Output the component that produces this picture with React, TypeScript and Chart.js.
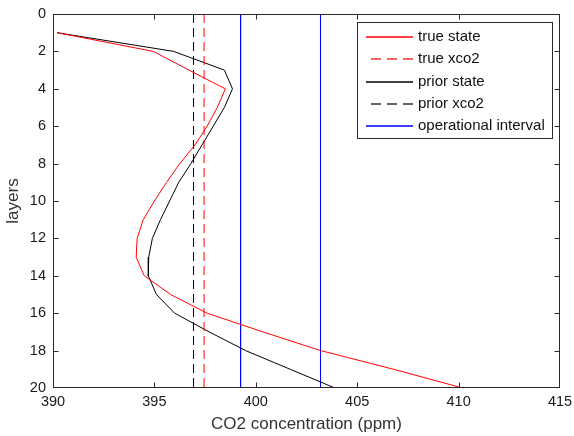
import React, { useEffect, useRef } from "react";
import { Chart, registerables } from "chart.js";

Chart.register(...registerables);

// Atmospheric layers (1 = top of the column)
const layers = [1, 2, 3, 4, 5, 6, 7, 8, 9, 10, 11, 12, 13, 14, 15, 16, 17, 18, 19, 20];

// CO2 profiles per layer (ppm)
const trueState = [
  390.2, 394.95, 396.7, 398.5, 398.1, 397.6, 397.0, 396.25, 395.6, 395.0,
  394.45, 394.15, 394.1, 394.5, 395.8, 397.6, 400.35, 403.2, 406.8, 410.2,
];
const priorState = [
  390.2, 395.95, 398.45, 398.85, 398.45, 397.9, 397.35, 396.8, 396.2, 395.75,
  395.3, 394.9, 394.72, 394.7, 395.1, 396.0, 397.7, 399.5, 401.7, 403.9,
];

// Column-averaged values (ppm)
const trueXco2 = 397.45;
const priorXco2 = 396.93;

// Bounds of the operational interval (ppm)
const operationalInterval = [399.25, 403.19];

// Axis ranges
const xRange = [390, 415];
const layerRange = [0, 20];

const FONT = "'Liberation Sans', Arial, Helvetica, sans-serif";
const AXIS_COLOR = "#2a2a2a";
const DASH = [9, 5];

type LegendEntry = { label: string; color: string; dash: number[] };

const legendEntries: LegendEntry[] = [
  { label: "true state", color: "#ff0000", dash: [] },
  { label: "true xco2", color: "#ff3030", dash: [10, 6] },
  { label: "prior state", color: "#000000", dash: [] },
  { label: "prior xco2", color: "#303030", dash: [10, 6] },
  { label: "operational interval", color: "#0000ff", dash: [] },
];

const verticalLine = (x: number) => [
  { x, y: layerRange[0] },
  { x, y: layerRange[1] },
];

// Box around the plot with inward tick marks on all four sides
const boxPlugin = {
  id: "axisBox",
  afterDraw(chart: any) {
    const { ctx, chartArea } = chart;
    const l = Math.round(chartArea.left) + 0.5;
    const r = Math.round(chartArea.right) - 0.5;
    const t = Math.round(chartArea.top) + 0.5;
    const b = Math.round(chartArea.bottom) - 0.5;
    const len = 5;
    ctx.save();
    ctx.strokeStyle = AXIS_COLOR;
    ctx.lineWidth = 1;
    ctx.setLineDash([]);
    ctx.strokeRect(l, t, r - l, b - t);
    ctx.beginPath();
    const xs = chart.scales.x;
    xs.ticks.forEach((tk: any) => {
      const px = Math.round(xs.getPixelForValue(tk.value)) + 0.5;
      if (px <= l + 1 || px >= r - 1) return;
      ctx.moveTo(px, b);
      ctx.lineTo(px, b - len);
      ctx.moveTo(px, t);
      ctx.lineTo(px, t + len);
    });
    const ys = chart.scales.y;
    ys.ticks.forEach((tk: any) => {
      const py = Math.round(ys.getPixelForValue(tk.value)) + 0.5;
      if (py <= t + 1 || py >= b - 1) return;
      ctx.moveTo(l, py);
      ctx.lineTo(l + len, py);
      ctx.moveTo(r, py);
      ctx.lineTo(r - len, py);
    });
    ctx.stroke();
    ctx.restore();
  },
};

// Legend box in the upper right corner of the plot
const legendPlugin = {
  id: "boxLegend",
  afterDatasetsDraw(chart: any) {
    const { ctx } = chart;
    const bx = 357.5;
    const by = 22.5;
    const bw = 195;
    const bh = 116;
    const rowTop = 37;
    const rowStep = 22.3;
    const sx0 = 366;
    const sx1 = 413;
    ctx.save();
    ctx.fillStyle = "#ffffff";
    ctx.fillRect(bx, by, bw, bh);
    ctx.strokeStyle = AXIS_COLOR;
    ctx.lineWidth = 1;
    ctx.setLineDash([]);
    ctx.strokeRect(bx, by, bw, bh);
    ctx.font = `15px ${FONT}`;
    ctx.textBaseline = "middle";
    ctx.textAlign = "left";
    legendEntries.forEach((e, i) => {
      const y = Math.round(rowTop + i * rowStep);
      ctx.setLineDash(e.dash);
      ctx.lineDashOffset = e.dash.length ? 11 : 0;
      ctx.lineWidth = 1.3;
      ctx.beginPath();
      ctx.moveTo(sx0, y);
      ctx.lineTo(sx1, y);
      ctx.strokeStyle = e.color;
      ctx.stroke();
      ctx.fillStyle = "#111111";
      ctx.fillText(e.label, 418, y);
    });
    ctx.restore();
  },
};

export default function App() {
  const canvasRef = useRef<HTMLCanvasElement | null>(null);

  useEffect(() => {
    if (!canvasRef.current) return;
    const chart = new Chart(canvasRef.current, {
      type: "scatter",
      data: {
        datasets: [
          {
            label: "true state",
            data: layers.map((l, i) => ({ x: trueState[i], y: l })),
            borderColor: "#ff0000",
            borderWidth: 1,
            showLine: true,
            pointRadius: 0,
            tension: 0,
          },
          {
            label: "true xco2",
            data: verticalLine(trueXco2),
            borderColor: "#ff0000",
            borderWidth: 1,
            borderDash: DASH,
            showLine: true,
            pointRadius: 0,
          },
          {
            label: "prior state",
            data: layers.map((l, i) => ({ x: priorState[i], y: l })),
            borderColor: "#000000",
            borderWidth: 1,
            showLine: true,
            pointRadius: 0,
            tension: 0,
          },
          {
            label: "prior xco2",
            data: verticalLine(priorXco2),
            borderColor: "#000000",
            borderWidth: 1,
            borderDash: DASH,
            showLine: true,
            pointRadius: 0,
          },
          {
            label: "operational interval",
            data: [
              ...verticalLine(operationalInterval[0]),
              { x: operationalInterval[0], y: null as any },
              ...verticalLine(operationalInterval[1]),
            ],
            borderColor: "#0000ff",
            borderWidth: 1,
            showLine: true,
            spanGaps: false,
            pointRadius: 0,
          },
        ],
      },
      options: {
        responsive: false,
        animation: false,
        devicePixelRatio: 1,
        layout: { padding: { top: 14, right: 14, left: 0, bottom: 0 } },
        plugins: {
          legend: { display: false },
          tooltip: { enabled: false },
        },
        scales: {
          x: {
            type: "linear",
            position: "bottom",
            min: xRange[0],
            max: xRange[1],
            grid: { display: false, drawTicks: false },
            border: { display: false },
            ticks: {
              stepSize: 5,
              padding: 5,
              color: "#1a1a1a",
              font: { family: FONT, size: 14.5 },
              maxRotation: 0,
            },
            title: {
              display: true,
              text: "CO2 concentration (ppm)",
              color: "#333333",
              font: { family: FONT, size: 17 },
              padding: { top: 0, bottom: 1 },
            },
            afterFit(scale: any) {
              scale.height = 48;
              scale.paddingLeft = 0;
              scale.paddingRight = 0;
            },
          },
          y: {
            type: "linear",
            reverse: true,
            min: layerRange[0],
            max: layerRange[1],
            grid: { display: false, drawTicks: false },
            border: { display: false },
            ticks: {
              stepSize: 2,
              padding: 7,
              color: "#1a1a1a",
              font: { family: FONT, size: 14.5 },
            },
            title: {
              display: true,
              text: "layers",
              color: "#333333",
              font: { family: FONT, size: 17 },
              padding: { top: 3, bottom: 0 },
            },
            afterFit(scale: any) {
              scale.width = 53;
              scale.paddingTop = 0;
              scale.paddingBottom = 0;
            },
          },
        },
      },
      plugins: [legendPlugin, boxPlugin],
    });
    return () => chart.destroy();
  }, []);

  return (
    <div style={{ position: "absolute", left: 0, top: 0, width: 574, height: 436, background: "#fff" }}>
      <canvas ref={canvasRef} width={574} height={436} />
    </div>
  );
}
